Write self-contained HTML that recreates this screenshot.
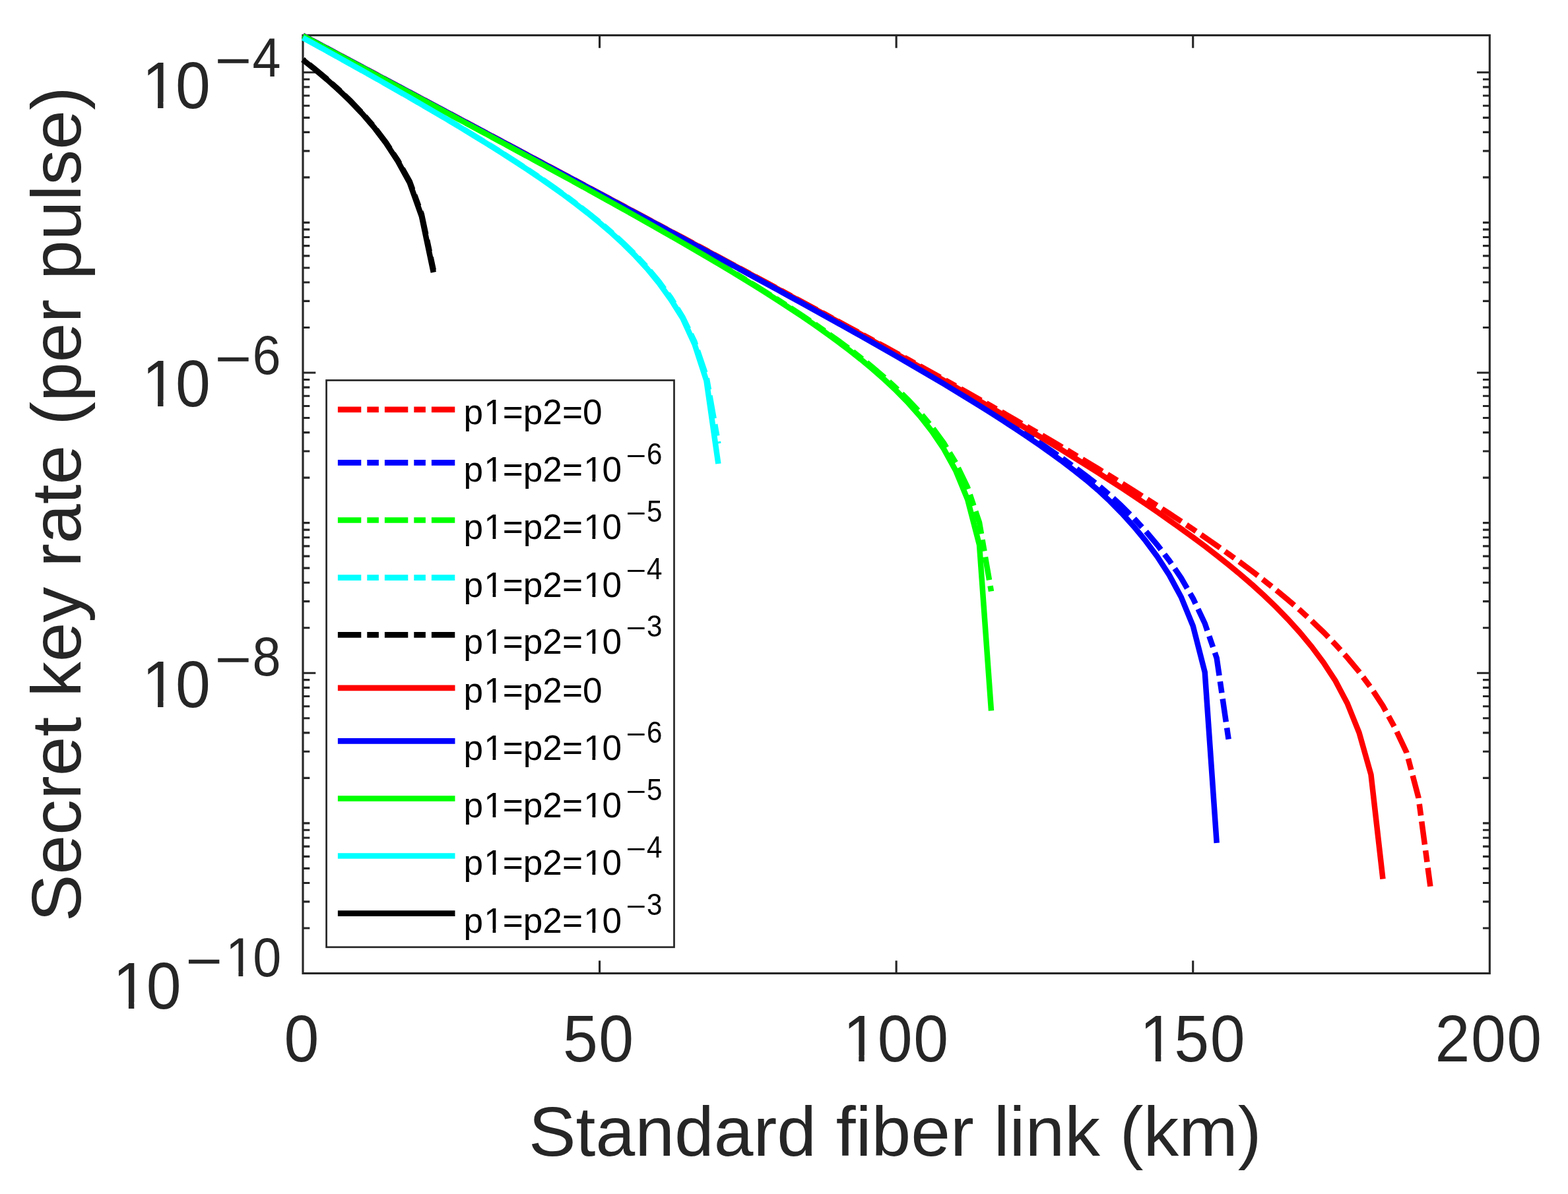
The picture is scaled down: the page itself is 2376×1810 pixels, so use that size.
<!DOCTYPE html>
<html lang="en"><head><meta charset="utf-8"><title>Secret key rate vs standard fiber link</title>
<style>html,body{margin:0;padding:0;background:#fff;}svg{display:block;}text{font-family:"Liberation Sans", Arial, Helvetica, sans-serif;font-kerning:none;}</style>
</head><body>
<svg width="2376" height="1810" viewBox="0 0 2376 1810" role="img" aria-label="Secret key rate (per pulse) versus standard fiber link (km)">
<rect x="0" y="0" width="2376" height="1810" fill="#ffffff"/>
<g stroke="#262626" stroke-width="3.125" fill="none" stroke-linecap="butt">
<rect x="459.00" y="53.50" width="1798.30" height="1422.00"/>
<path d="M908.58 1475.50L908.58 1456.19M908.58 53.50L908.58 72.81M1358.15 1475.50L1358.15 1456.19M1358.15 53.50L1358.15 72.81M1807.73 1475.50L1807.73 1456.19M1807.73 53.50L1807.73 72.81M459.00 109.80L478.31 109.80M2257.30 109.80L2237.99 109.80M459.00 337.42L469.31 337.42M2257.30 337.42L2246.99 337.42M459.00 268.90L469.31 268.90M2257.30 268.90L2246.99 268.90M459.00 228.82L469.31 228.82M2257.30 228.82L2246.99 228.82M459.00 200.38L469.31 200.38M2257.30 200.38L2246.99 200.38M459.00 178.32L469.31 178.32M2257.30 178.32L2246.99 178.32M459.00 160.30L469.31 160.30M2257.30 160.30L2246.99 160.30M459.00 145.06L469.31 145.06M2257.30 145.06L2246.99 145.06M459.00 131.86L469.31 131.86M2257.30 131.86L2246.99 131.86M459.00 120.22L469.31 120.22M2257.30 120.22L2246.99 120.22M459.00 565.03L478.31 565.03M2257.30 565.03L2237.99 565.03M459.00 496.51L469.31 496.51M2257.30 496.51L2246.99 496.51M459.00 456.43L469.31 456.43M2257.30 456.43L2246.99 456.43M459.00 427.99L469.31 427.99M2257.30 427.99L2246.99 427.99M459.00 405.94L469.31 405.94M2257.30 405.94L2246.99 405.94M459.00 387.91L469.31 387.91M2257.30 387.91L2246.99 387.91M459.00 372.67L469.31 372.67M2257.30 372.67L2246.99 372.67M459.00 359.48L469.31 359.48M2257.30 359.48L2246.99 359.48M459.00 347.83L469.31 347.83M2257.30 347.83L2246.99 347.83M459.00 792.65L469.31 792.65M2257.30 792.65L2246.99 792.65M459.00 724.13L469.31 724.13M2257.30 724.13L2246.99 724.13M459.00 684.05L469.31 684.05M2257.30 684.05L2246.99 684.05M459.00 655.61L469.31 655.61M2257.30 655.61L2246.99 655.61M459.00 633.55L469.31 633.55M2257.30 633.55L2246.99 633.55M459.00 615.53L469.31 615.53M2257.30 615.53L2246.99 615.53M459.00 600.29L469.31 600.29M2257.30 600.29L2246.99 600.29M459.00 587.09L469.31 587.09M2257.30 587.09L2246.99 587.09M459.00 575.45L469.31 575.45M2257.30 575.45L2246.99 575.45M459.00 1020.27L478.31 1020.27M2257.30 1020.27L2237.99 1020.27M459.00 951.75L469.31 951.75M2257.30 951.75L2246.99 951.75M459.00 911.67L469.31 911.67M2257.30 911.67L2246.99 911.67M459.00 883.23L469.31 883.23M2257.30 883.23L2246.99 883.23M459.00 861.17L469.31 861.17M2257.30 861.17L2246.99 861.17M459.00 843.15L469.31 843.15M2257.30 843.15L2246.99 843.15M459.00 827.91L469.31 827.91M2257.30 827.91L2246.99 827.91M459.00 814.71L469.31 814.71M2257.30 814.71L2246.99 814.71M459.00 803.07L469.31 803.07M2257.30 803.07L2246.99 803.07M459.00 1247.88L469.31 1247.88M2257.30 1247.88L2246.99 1247.88M459.00 1179.36L469.31 1179.36M2257.30 1179.36L2246.99 1179.36M459.00 1139.28L469.31 1139.28M2257.30 1139.28L2246.99 1139.28M459.00 1110.84L469.31 1110.84M2257.30 1110.84L2246.99 1110.84M459.00 1088.79L469.31 1088.79M2257.30 1088.79L2246.99 1088.79M459.00 1070.76L469.31 1070.76M2257.30 1070.76L2246.99 1070.76M459.00 1055.52L469.31 1055.52M2257.30 1055.52L2246.99 1055.52M459.00 1042.33L469.31 1042.33M2257.30 1042.33L2246.99 1042.33M459.00 1030.68L469.31 1030.68M2257.30 1030.68L2246.99 1030.68M459.00 1406.98L469.31 1406.98M2257.30 1406.98L2246.99 1406.98M459.00 1366.90L469.31 1366.90M2257.30 1366.90L2246.99 1366.90M459.00 1338.46L469.31 1338.46M2257.30 1338.46L2246.99 1338.46M459.00 1316.40L469.31 1316.40M2257.30 1316.40L2246.99 1316.40M459.00 1298.38L469.31 1298.38M2257.30 1298.38L2246.99 1298.38M459.00 1283.14L469.31 1283.14M2257.30 1283.14L2246.99 1283.14M459.00 1269.94L469.31 1269.94M2257.30 1269.94L2246.99 1269.94M459.00 1258.30L469.31 1258.30M2257.30 1258.30L2246.99 1258.30"/>
</g>
<path d="M459.00 53.93L476.98 63.49L494.97 73.05L512.95 82.61L530.93 92.18L548.91 101.74L566.90 111.30L584.88 120.87L602.86 130.43L620.85 139.99L638.83 149.56L656.81 159.13L674.80 168.69L692.78 178.26L710.76 187.83L728.75 197.40L746.73 206.97L764.71 216.54L782.69 226.11L800.68 235.69L818.66 245.26L836.64 254.84L854.63 264.42L872.61 274.00L890.59 283.59L908.58 293.17L926.56 302.76L944.54 312.35L962.52 321.95L980.51 331.55L998.49 341.15L1016.47 350.76L1034.46 360.37L1052.44 369.99L1070.42 379.61L1088.40 389.24L1106.39 398.88L1124.37 408.53L1142.35 418.18L1160.34 427.84L1178.32 437.52L1196.30 447.21L1214.29 456.91L1232.27 466.62L1250.25 476.35L1268.24 486.10L1286.22 495.87L1304.20 505.66L1322.18 515.48L1340.17 525.32L1358.15 535.19L1376.13 545.09L1394.12 555.03L1412.10 565.01L1430.08 575.03L1448.07 585.09L1466.05 595.19L1484.03 605.35L1502.01 615.55L1520.00 625.81L1537.98 636.13L1555.96 646.52L1573.95 656.98L1591.93 667.51L1609.91 678.12L1627.89 688.82L1645.88 699.61L1663.86 710.50L1681.84 721.49L1699.83 732.60L1717.81 743.84L1735.79 755.21L1753.78 766.72L1771.76 778.38L1789.74 790.22L1807.73 802.24L1825.71 814.46L1843.69 826.94L1861.67 839.70L1879.66 852.77L1897.64 866.20L1915.62 880.04L1933.61 894.34L1951.59 909.19L1969.57 924.72L1987.56 941.07L2005.54 958.37L2023.52 976.81L2041.50 996.68L2059.49 1018.36L2077.47 1042.46L2095.45 1070.00L2113.44 1102.70L2131.42 1140.70L2149.40 1208.80L2167.39 1343.70" fill="none" stroke="#ff0000" stroke-width="8.50" stroke-linejoin="miter" stroke-linecap="butt" stroke-dasharray="35.4 9.0 17.6 9.0" stroke-dashoffset="4.43"/>
<path d="M459.00 53.96L476.98 63.53L494.97 73.09L512.95 82.66L530.93 92.22L548.91 101.79L566.90 111.36L584.88 120.93L602.86 130.50L620.85 140.07L638.83 149.65L656.81 159.22L674.80 168.80L692.78 178.38L710.76 187.95L728.75 197.54L746.73 207.12L764.71 216.71L782.69 226.30L800.68 235.89L818.66 245.48L836.64 255.08L854.63 264.68L872.61 274.29L890.59 283.90L908.58 293.52L926.56 303.14L944.54 312.77L962.52 322.41L980.51 332.05L998.49 341.70L1016.47 351.37L1034.46 361.04L1052.44 370.72L1070.42 380.42L1088.40 390.13L1106.39 399.85L1124.37 409.59L1142.35 419.35L1160.34 429.13L1178.32 438.93L1196.30 448.76L1214.29 458.61L1232.27 468.50L1250.25 478.42L1268.24 488.37L1286.22 498.37L1304.20 508.41L1322.18 518.50L1340.17 528.65L1358.15 538.86L1376.13 549.14L1394.12 559.50L1412.10 569.94L1430.08 580.48L1448.07 591.13L1466.05 601.90L1484.03 612.81L1502.01 623.88L1520.00 635.12L1537.98 646.56L1555.96 658.22L1573.95 670.15L1591.93 682.39L1609.91 694.97L1627.89 707.96L1645.88 721.43L1663.86 735.48L1681.84 750.60L1699.83 767.19L1717.81 785.24L1735.79 804.83L1753.78 826.17L1771.76 849.65L1789.74 876.07L1807.73 907.00L1825.71 945.00L1843.69 997.60L1861.67 1121.00" fill="none" stroke="#0000ff" stroke-width="8.50" stroke-linejoin="miter" stroke-linecap="butt" stroke-dasharray="35.4 9.0 17.6 9.0" stroke-dashoffset="4.30"/>
<path d="M459.00 54.24L476.98 63.84L494.97 73.43L512.95 83.04L530.93 92.64L548.91 102.25L566.90 111.87L584.88 121.49L602.86 131.12L620.85 140.75L638.83 150.40L656.81 160.05L674.80 169.71L692.78 179.38L710.76 189.06L728.75 198.76L746.73 208.47L764.71 218.20L782.69 227.94L800.68 237.70L818.66 247.48L836.64 257.29L854.63 267.12L872.61 276.98L890.59 286.87L908.58 296.80L926.56 306.77L944.54 316.78L962.52 326.83L980.51 336.94L998.49 347.11L1016.47 357.35L1034.46 367.66L1052.44 378.06L1070.42 388.54L1088.40 399.14L1106.39 409.85L1124.37 420.69L1142.35 431.68L1160.34 442.84L1178.32 454.20L1196.30 465.77L1214.29 477.60L1232.27 489.72L1250.25 502.18L1268.24 515.04L1286.22 528.36L1304.20 542.24L1322.18 556.79L1340.17 572.15L1358.15 588.52L1376.13 606.17L1394.12 625.48L1412.10 647.03L1430.08 671.73L1448.07 701.20L1466.05 738.63L1484.03 792.12L1502.01 896.40" fill="none" stroke="#00ff00" stroke-width="8.50" stroke-linejoin="miter" stroke-linecap="butt" stroke-dasharray="35.4 9.0 17.6 9.0" stroke-dashoffset="5.32"/>
<path d="M459.00 57.11L476.98 67.00L494.97 76.93L512.95 86.89L530.93 96.90L548.91 106.96L566.90 117.07L584.88 127.24L602.86 137.47L620.85 147.78L638.83 158.17L656.81 168.66L674.80 179.25L692.78 189.95L710.76 200.79L728.75 211.78L746.73 222.94L764.71 234.29L782.69 245.86L800.68 257.68L818.66 269.79L836.64 282.24L854.63 295.09L872.61 308.40L890.59 322.27L908.58 336.79L926.56 352.13L944.54 368.48L962.52 386.09L980.51 405.35L998.49 426.84L1016.47 451.45L1034.46 480.76L1052.44 517.93L1070.42 570.83L1088.40 672.50" fill="none" stroke="#00ffff" stroke-width="8.50" stroke-linejoin="miter" stroke-linecap="butt" stroke-dasharray="35.4 9.0 17.6 9.0" stroke-dashoffset="3.08"/>
<path d="M459.00 90.20L476.98 104.50L494.97 119.57L512.95 135.58L530.93 152.79L548.91 171.54L566.90 192.35L584.88 216.00L602.86 243.20L620.85 275.30L638.83 324.70L656.81 409.50" fill="none" stroke="#000000" stroke-width="8.50" stroke-linejoin="miter" stroke-linecap="butt" stroke-dasharray="35.4 9.0 17.6 9.0" stroke-dashoffset="58.74"/>
<path d="M459.00 53.94L476.98 63.50L494.97 73.06L512.95 82.62L530.93 92.19L548.91 101.75L566.90 111.32L584.88 120.88L602.86 130.45L620.85 140.02L638.83 149.58L656.81 159.15L674.80 168.72L692.78 178.29L710.76 187.86L728.75 197.44L746.73 207.01L764.71 216.59L782.69 226.17L800.68 235.74L818.66 245.33L836.64 254.91L854.63 264.50L872.61 274.09L890.59 283.68L908.58 293.27L926.56 302.87L944.54 312.48L962.52 322.08L980.51 331.70L998.49 341.32L1016.47 350.94L1034.46 360.57L1052.44 370.21L1070.42 379.86L1088.40 389.51L1106.39 399.18L1124.37 408.85L1142.35 418.54L1160.34 428.24L1178.32 437.96L1196.30 447.69L1214.29 457.44L1232.27 467.21L1250.25 477.00L1268.24 486.82L1286.22 496.66L1304.20 506.54L1322.18 516.44L1340.17 526.39L1358.15 536.37L1376.13 546.40L1394.12 556.48L1412.10 566.61L1430.08 576.80L1448.07 587.04L1466.05 597.35L1484.03 607.73L1502.01 618.17L1520.00 628.69L1537.98 639.30L1555.96 650.00L1573.95 660.79L1591.93 671.69L1609.91 682.70L1627.89 693.84L1645.88 705.10L1663.86 716.51L1681.84 728.07L1699.83 739.79L1717.81 751.70L1735.79 763.80L1753.78 776.11L1771.76 788.65L1789.74 801.45L1807.73 814.53L1825.71 827.95L1843.69 841.77L1861.67 856.07L1879.66 870.94L1897.64 886.51L1915.62 902.88L1933.61 920.20L1951.59 938.66L1969.57 958.55L1987.56 980.28L2005.54 1004.50L2023.52 1032.00L2041.50 1066.00L2059.49 1110.60L2077.47 1174.20L2095.45 1332.40" fill="none" stroke="#ff0000" stroke-width="8.50" stroke-linejoin="miter" stroke-linecap="butt"/>
<path d="M459.00 53.97L476.98 63.53L494.97 73.10L512.95 82.67L530.93 92.24L548.91 101.81L566.90 111.38L584.88 120.95L602.86 130.52L620.85 140.09L638.83 149.67L656.81 159.24L674.80 168.82L692.78 178.40L710.76 187.99L728.75 197.57L746.73 207.16L764.71 216.75L782.69 226.34L800.68 235.94L818.66 245.54L836.64 255.14L854.63 264.75L872.61 274.36L890.59 283.98L908.58 293.61L926.56 303.24L944.54 312.88L962.52 322.52L980.51 332.18L998.49 341.84L1016.47 351.52L1034.46 361.21L1052.44 370.91L1070.42 380.62L1088.40 390.35L1106.39 400.10L1124.37 409.86L1142.35 419.65L1160.34 429.46L1178.32 439.30L1196.30 449.16L1214.29 459.06L1232.27 468.99L1250.25 478.96L1268.24 488.97L1286.22 499.03L1304.20 509.14L1322.18 519.31L1340.17 529.54L1358.15 539.84L1376.13 550.23L1394.12 560.71L1412.10 571.28L1430.08 581.97L1448.07 592.79L1466.05 603.75L1484.03 614.87L1502.01 626.18L1520.00 637.69L1537.98 649.44L1555.96 661.47L1573.95 673.82L1591.93 686.53L1609.91 699.68L1627.89 713.34L1645.88 727.61L1663.86 742.94L1681.84 759.71L1699.83 777.97L1717.81 797.85L1735.79 819.66L1753.78 843.94L1771.76 871.70L1789.74 905.00L1807.73 948.80L1825.71 1019.00L1843.69 1277.90" fill="none" stroke="#0000ff" stroke-width="8.50" stroke-linejoin="miter" stroke-linecap="butt"/>
<path d="M459.00 54.26L476.98 63.86L494.97 73.46L512.95 83.06L530.93 92.67L548.91 102.28L566.90 111.90L584.88 121.52L602.86 131.16L620.85 140.79L638.83 150.44L656.81 160.10L674.80 169.76L692.78 179.44L710.76 189.13L728.75 198.83L746.73 208.55L764.71 218.28L782.69 228.03L800.68 237.81L818.66 247.60L836.64 257.42L854.63 267.26L872.61 277.14L890.59 287.05L908.58 296.99L926.56 306.98L944.54 317.01L962.52 327.09L980.51 337.23L998.49 347.44L1016.47 357.71L1034.46 368.06L1052.44 378.50L1070.42 389.03L1088.40 399.68L1106.39 410.45L1124.37 421.36L1142.35 432.44L1160.34 443.69L1178.32 455.15L1196.30 466.84L1214.29 478.81L1232.27 491.09L1250.25 503.73L1268.24 516.81L1286.22 530.39L1304.20 544.58L1322.18 559.50L1340.17 575.32L1358.15 592.26L1376.13 610.63L1394.12 630.89L1412.10 653.77L1430.08 680.47L1448.07 713.19L1466.05 756.78L1484.03 826.00L1502.01 1077.40" fill="none" stroke="#00ff00" stroke-width="8.50" stroke-linejoin="miter" stroke-linecap="butt"/>
<path d="M459.00 57.16L476.98 67.06L494.97 76.99L512.95 86.96L530.93 96.98L548.91 107.04L566.90 117.16L584.88 127.34L602.86 137.59L620.85 147.91L638.83 158.32L656.81 168.82L674.80 179.43L692.78 190.15L710.76 201.02L728.75 212.03L746.73 223.22L764.71 234.60L782.69 246.21L800.68 258.07L818.66 270.24L836.64 282.75L854.63 295.67L872.61 309.06L890.59 323.02L908.58 337.66L926.56 353.14L944.54 369.66L962.52 387.51L980.51 407.08L998.49 429.00L1016.47 453.90L1034.46 482.50L1052.44 521.80L1070.42 577.00L1088.40 703.00" fill="none" stroke="#00ffff" stroke-width="8.50" stroke-linejoin="miter" stroke-linecap="butt"/>
<path d="M459.00 90.70L476.98 105.04L494.97 120.16L512.95 136.23L530.93 153.50L548.91 172.33L566.90 193.22L584.88 217.00L602.86 244.50L620.85 277.30L638.83 327.70L656.81 412.80" fill="none" stroke="#000000" stroke-width="8.50" stroke-linejoin="miter" stroke-linecap="butt"/>
<g fill="#262626">
<text transform="translate(457.00 1609.00) translate(-26.42 0) scale(1.0000 1.0520)" font-size="95.00">0</text>
<text transform="translate(906.58 1609.00) translate(-53.61 0) scale(1.0000 1.0520)" font-size="95.00" dx="0 1.56">50</text>
<g transform="translate(1356.15 1609.00) translate(-78.72 0) scale(1.0000 1.0520)"><text font-size="95.00" dx="0 -0.53 1.56">100</text><rect x="4.75" y="-9.00" width="19.14" height="10.50" fill="#ffffff"/><rect x="32.28" y="-9.00" width="18.54" height="10.50" fill="#ffffff"/></g>
<g transform="translate(1805.73 1609.00) translate(-78.72 0) scale(1.0000 1.0520)"><text font-size="95.00" dx="0 -0.53 1.56">150</text><rect x="4.75" y="-9.00" width="19.14" height="10.50" fill="#ffffff"/><rect x="32.28" y="-9.00" width="18.54" height="10.50" fill="#ffffff"/></g>
<text transform="translate(2255.30 1609.00) translate(-80.81 0) scale(1.0000 1.0520)" font-size="95.00" dx="0 1.56 1.56">200</text>
<g transform="translate(213.10 164.00) translate(2.09 0) scale(1.0000 1.0520)"><text font-size="95.00" dx="0 -2.09">10</text><rect x="4.75" y="-9.00" width="19.14" height="10.50" fill="#ffffff"/><rect x="32.28" y="-9.00" width="18.54" height="10.50" fill="#ffffff"/></g>
<text transform="translate(325.39 120.00) scale(1.2350 1.0700)" font-size="77.30">−</text>
<text transform="translate(382.60 115.50) scale(1.0000 1.0700)" font-size="77.30">4</text>
<g transform="translate(213.10 615.90) translate(2.09 0) scale(1.0000 1.0520)"><text font-size="95.00" dx="0 -2.09">10</text><rect x="4.75" y="-9.00" width="19.14" height="10.50" fill="#ffffff"/><rect x="32.28" y="-9.00" width="18.54" height="10.50" fill="#ffffff"/></g>
<text transform="translate(325.39 571.90) scale(1.2350 1.0700)" font-size="77.30">−</text>
<text transform="translate(382.60 567.40) scale(1.0000 1.0700)" font-size="77.30">6</text>
<g transform="translate(213.10 1072.00) translate(2.09 0) scale(1.0000 1.0520)"><text font-size="95.00" dx="0 -2.09">10</text><rect x="4.75" y="-9.00" width="19.14" height="10.50" fill="#ffffff"/><rect x="32.28" y="-9.00" width="18.54" height="10.50" fill="#ffffff"/></g>
<text transform="translate(325.39 1028.00) scale(1.2350 1.0700)" font-size="77.30">−</text>
<text transform="translate(382.60 1023.50) scale(1.0000 1.0700)" font-size="77.30">8</text>
<g transform="translate(168.90 1528.80) translate(2.09 0) scale(1.0000 1.0520)"><text font-size="95.00" dx="0 -2.09">10</text><rect x="4.75" y="-9.00" width="19.14" height="10.50" fill="#ffffff"/><rect x="32.28" y="-9.00" width="18.54" height="10.50" fill="#ffffff"/></g>
<text transform="translate(281.19 1484.80) scale(1.2350 1.0700)" font-size="77.30">−</text>
<g transform="translate(340.30 1480.30) translate(1.70 0) scale(1.0000 1.0700)"><text font-size="77.30" dx="0 -1.7">10</text><rect x="3.87" y="-7.32" width="15.58" height="8.82" fill="#ffffff"/><rect x="26.27" y="-7.32" width="15.09" height="8.82" fill="#ffffff"/></g>
<text transform="translate(1356.30 1751.50) translate(-555.35 0) scale(1.0000 0.9900)" font-size="107.45">Standard fiber link (km)</text>
<text transform="translate(122.20 764.20) rotate(-90) translate(-633.03 0) scale(1.0000 0.9900)" font-size="107.45">Secret key rate (per pulse)</text>
</g>
<g><rect x="494.60" y="576.50" width="526.90" height="859.30" fill="#ffffff" stroke="#262626" stroke-width="2.7"/>
<line x1="511.9" y1="620.90" x2="689.5" y2="620.90" stroke="#ff0000" stroke-width="8.70" stroke-dasharray="35.4 9 17.6 9"/>
<g transform="translate(702.47 643.20) scale(1.0000 1.0150)"><text font-size="53.20" dx="0 1.17 -1.17 0 0 0 0" fill="#000">p1=p2=0</text><rect x="33.42" y="-5.37" width="10.72" height="6.87" fill="#ffffff"/><rect x="48.83" y="-5.37" width="10.38" height="6.87" fill="#ffffff"/></g>
<line x1="511.9" y1="701.40" x2="689.5" y2="701.40" stroke="#0000ff" stroke-width="8.70" stroke-dasharray="35.4 9 17.6 9"/>
<g transform="translate(702.47 730.30) scale(1.0000 1.0150)"><text font-size="53.20" dx="0 1.17 -1.17 0 0 0 1.17 -1.17" fill="#000">p1=p2=10</text><rect x="33.42" y="-5.37" width="10.72" height="6.87" fill="#ffffff"/><rect x="48.83" y="-5.37" width="10.38" height="6.87" fill="#ffffff"/><rect x="184.31" y="-5.37" width="10.72" height="6.87" fill="#ffffff"/><rect x="199.73" y="-5.37" width="10.38" height="6.87" fill="#ffffff"/></g>
<text transform="translate(948.60 704.64) scale(1.2100 0.9500)" font-size="43.50" fill="#000">−</text>
<text transform="translate(979.60 703.90) translate(0.36 0) scale(1.0000 1.0830)" font-size="42.20" fill="#000">6</text>
<line x1="511.9" y1="788.50" x2="689.5" y2="788.50" stroke="#00ff00" stroke-width="8.70" stroke-dasharray="35.4 9 17.6 9"/>
<g transform="translate(702.47 817.40) scale(1.0000 1.0150)"><text font-size="53.20" dx="0 1.17 -1.17 0 0 0 1.17 -1.17" fill="#000">p1=p2=10</text><rect x="33.42" y="-5.37" width="10.72" height="6.87" fill="#ffffff"/><rect x="48.83" y="-5.37" width="10.38" height="6.87" fill="#ffffff"/><rect x="184.31" y="-5.37" width="10.72" height="6.87" fill="#ffffff"/><rect x="199.73" y="-5.37" width="10.38" height="6.87" fill="#ffffff"/></g>
<text transform="translate(948.60 791.74) scale(1.2100 0.9500)" font-size="43.50" fill="#000">−</text>
<text transform="translate(979.60 791.00) translate(0.36 0) scale(1.0000 1.0830)" font-size="42.20" fill="#000">5</text>
<line x1="511.9" y1="875.60" x2="689.5" y2="875.60" stroke="#00ffff" stroke-width="8.70" stroke-dasharray="35.4 9 17.6 9"/>
<g transform="translate(702.47 904.50) scale(1.0000 1.0150)"><text font-size="53.20" dx="0 1.17 -1.17 0 0 0 1.17 -1.17" fill="#000">p1=p2=10</text><rect x="33.42" y="-5.37" width="10.72" height="6.87" fill="#ffffff"/><rect x="48.83" y="-5.37" width="10.38" height="6.87" fill="#ffffff"/><rect x="184.31" y="-5.37" width="10.72" height="6.87" fill="#ffffff"/><rect x="199.73" y="-5.37" width="10.38" height="6.87" fill="#ffffff"/></g>
<text transform="translate(948.60 878.84) scale(1.2100 0.9500)" font-size="43.50" fill="#000">−</text>
<text transform="translate(979.60 878.10) translate(0.36 0) scale(1.0000 1.0830)" font-size="42.20" fill="#000">4</text>
<line x1="511.9" y1="962.40" x2="689.5" y2="962.40" stroke="#000000" stroke-width="8.70" stroke-dasharray="35.4 9 17.6 9"/>
<g transform="translate(702.47 991.30) scale(1.0000 1.0150)"><text font-size="53.20" dx="0 1.17 -1.17 0 0 0 1.17 -1.17" fill="#000">p1=p2=10</text><rect x="33.42" y="-5.37" width="10.72" height="6.87" fill="#ffffff"/><rect x="48.83" y="-5.37" width="10.38" height="6.87" fill="#ffffff"/><rect x="184.31" y="-5.37" width="10.72" height="6.87" fill="#ffffff"/><rect x="199.73" y="-5.37" width="10.38" height="6.87" fill="#ffffff"/></g>
<text transform="translate(948.60 965.64) scale(1.2100 0.9500)" font-size="43.50" fill="#000">−</text>
<text transform="translate(979.60 964.90) translate(0.36 0) scale(1.0000 1.0830)" font-size="42.20" fill="#000">3</text>
<line x1="511.9" y1="1042.90" x2="689.5" y2="1042.90" stroke="#ff0000" stroke-width="8.70"/>
<g transform="translate(702.47 1065.20) scale(1.0000 1.0150)"><text font-size="53.20" dx="0 1.17 -1.17 0 0 0 0" fill="#000">p1=p2=0</text><rect x="33.42" y="-5.37" width="10.72" height="6.87" fill="#ffffff"/><rect x="48.83" y="-5.37" width="10.38" height="6.87" fill="#ffffff"/></g>
<line x1="511.9" y1="1123.40" x2="689.5" y2="1123.40" stroke="#0000ff" stroke-width="8.70"/>
<g transform="translate(702.47 1152.30) scale(1.0000 1.0150)"><text font-size="53.20" dx="0 1.17 -1.17 0 0 0 1.17 -1.17" fill="#000">p1=p2=10</text><rect x="33.42" y="-5.37" width="10.72" height="6.87" fill="#ffffff"/><rect x="48.83" y="-5.37" width="10.38" height="6.87" fill="#ffffff"/><rect x="184.31" y="-5.37" width="10.72" height="6.87" fill="#ffffff"/><rect x="199.73" y="-5.37" width="10.38" height="6.87" fill="#ffffff"/></g>
<text transform="translate(948.60 1126.64) scale(1.2100 0.9500)" font-size="43.50" fill="#000">−</text>
<text transform="translate(979.60 1125.90) translate(0.36 0) scale(1.0000 1.0830)" font-size="42.20" fill="#000">6</text>
<line x1="511.9" y1="1210.50" x2="689.5" y2="1210.50" stroke="#00ff00" stroke-width="8.70"/>
<g transform="translate(702.47 1239.40) scale(1.0000 1.0150)"><text font-size="53.20" dx="0 1.17 -1.17 0 0 0 1.17 -1.17" fill="#000">p1=p2=10</text><rect x="33.42" y="-5.37" width="10.72" height="6.87" fill="#ffffff"/><rect x="48.83" y="-5.37" width="10.38" height="6.87" fill="#ffffff"/><rect x="184.31" y="-5.37" width="10.72" height="6.87" fill="#ffffff"/><rect x="199.73" y="-5.37" width="10.38" height="6.87" fill="#ffffff"/></g>
<text transform="translate(948.60 1213.74) scale(1.2100 0.9500)" font-size="43.50" fill="#000">−</text>
<text transform="translate(979.60 1213.00) translate(0.36 0) scale(1.0000 1.0830)" font-size="42.20" fill="#000">5</text>
<line x1="511.9" y1="1297.50" x2="689.5" y2="1297.50" stroke="#00ffff" stroke-width="8.70"/>
<g transform="translate(702.47 1326.40) scale(1.0000 1.0150)"><text font-size="53.20" dx="0 1.17 -1.17 0 0 0 1.17 -1.17" fill="#000">p1=p2=10</text><rect x="33.42" y="-5.37" width="10.72" height="6.87" fill="#ffffff"/><rect x="48.83" y="-5.37" width="10.38" height="6.87" fill="#ffffff"/><rect x="184.31" y="-5.37" width="10.72" height="6.87" fill="#ffffff"/><rect x="199.73" y="-5.37" width="10.38" height="6.87" fill="#ffffff"/></g>
<text transform="translate(948.60 1300.74) scale(1.2100 0.9500)" font-size="43.50" fill="#000">−</text>
<text transform="translate(979.60 1300.00) translate(0.36 0) scale(1.0000 1.0830)" font-size="42.20" fill="#000">4</text>
<line x1="511.9" y1="1384.60" x2="689.5" y2="1384.60" stroke="#000000" stroke-width="8.70"/>
<g transform="translate(702.47 1413.50) scale(1.0000 1.0150)"><text font-size="53.20" dx="0 1.17 -1.17 0 0 0 1.17 -1.17" fill="#000">p1=p2=10</text><rect x="33.42" y="-5.37" width="10.72" height="6.87" fill="#ffffff"/><rect x="48.83" y="-5.37" width="10.38" height="6.87" fill="#ffffff"/><rect x="184.31" y="-5.37" width="10.72" height="6.87" fill="#ffffff"/><rect x="199.73" y="-5.37" width="10.38" height="6.87" fill="#ffffff"/></g>
<text transform="translate(948.60 1387.84) scale(1.2100 0.9500)" font-size="43.50" fill="#000">−</text>
<text transform="translate(979.60 1387.10) translate(0.36 0) scale(1.0000 1.0830)" font-size="42.20" fill="#000">3</text></g>
</svg>
</body></html>
